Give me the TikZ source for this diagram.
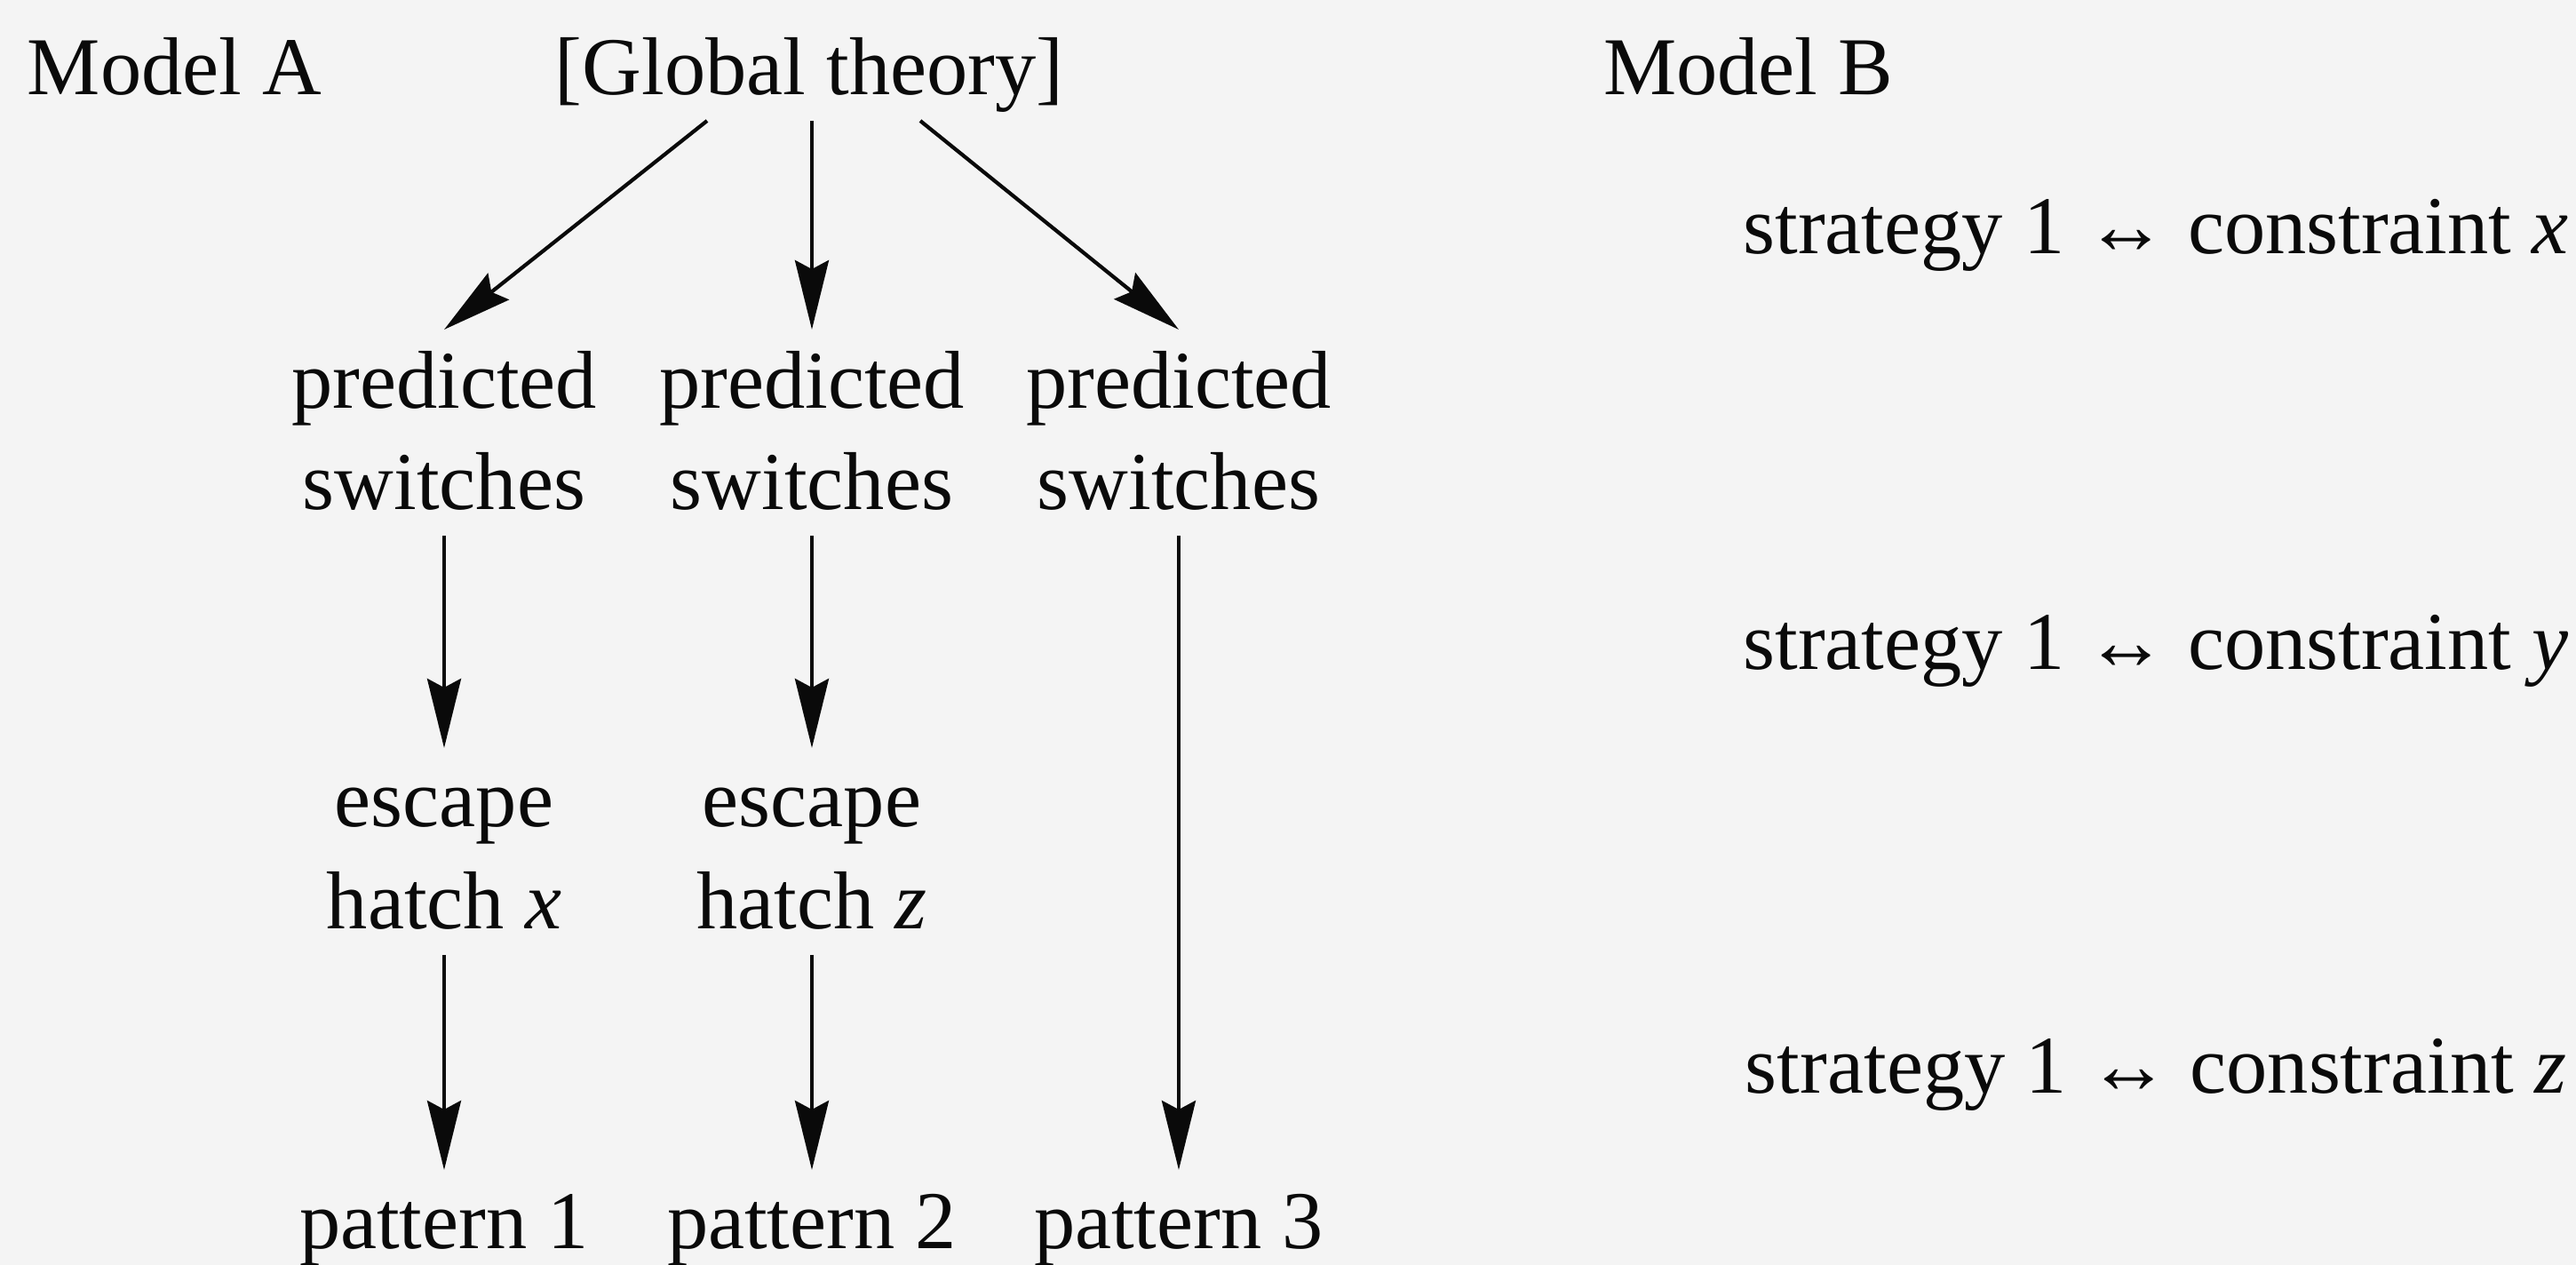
\documentclass[tikz,border=0pt]{standalone}
\usepackage{fontspec}
\setmainfont{Liberation Serif}
\usetikzlibrary{arrows.meta}
\definecolor{paper}{RGB}{244,244,244}
\definecolor{ink}{RGB}{10,10,10}
\tikzset{
  txt/.style={inner sep=0pt, outer sep=0pt, anchor=base, text height=0.89cm, text depth=0.29cm,
    font=\fontsize{26.3}{32}\selectfont, text=ink},
  arr/.style={draw=ink, line width=1.2pt, -{Stealth[length=0.78cm,width=0.38cm,inset=0.1cm]}}
}
\begin{document}
\begin{tikzpicture}
\useasboundingbox (0,0) rectangle (29,-14.24);
\fill[paper] (0,0) rectangle (29,-14.24);
% headings
\node[txt, anchor=base west] (ma) at (0.31,-1.07) {Model A};
\node[txt] (gt) at (9.11,-1.07) {[Global theory]};
\node[txt, anchor=base west] (mb) at (18.05,-1.07) {Model B};
% column 1
\node[txt] (ps1a) at (5.00,-4.60) {predicted};
\node[txt] (ps1b) at (5.00,-5.74) {switches};
\node[txt] (eh1a) at (5.00,-9.31) {escape};
\node[txt] (eh1b) at (5.00,-10.46) {hatch \textit{x}};
\node[txt] (pat1) at (5.00,-14.06) {pattern 1};
% column 2
\node[txt] (ps2a) at (9.14,-4.60) {predicted};
\node[txt] (ps2b) at (9.14,-5.74) {switches};
\node[txt] (eh2a) at (9.14,-9.31) {escape};
\node[txt] (eh2b) at (9.14,-10.46) {hatch \textit{z}};
\node[txt] (pat2) at (9.14,-14.06) {pattern 2};
% column 3
\node[txt] (ps3a) at (13.27,-4.60) {predicted};
\node[txt] (ps3b) at (13.27,-5.74) {switches};
\node[txt] (pat3) at (13.27,-14.06) {pattern 3};
% model B
\node[txt] (sc1) at (24.27,-2.86) {strategy 1 ↔ constraint \textit{x}};
\node[txt] (sc2) at (24.27,-7.54) {strategy 1 ↔ constraint \textit{y}};
\node[txt] (sc3) at (24.27,-12.31) {strategy 1 ↔ constraint \textit{z}};
% arrows
\draw[arr] ([xshift=-1.15cm]gt.south) -- (ps1a.north);
\draw[arr] (gt.south -| ps2a.north) -- (ps2a.north);
\draw[arr] ([xshift=1.25cm]gt.south) -- (ps3a.north);
\draw[arr] (ps1b.south) -- (eh1a.north);
\draw[arr] (ps2b.south) -- (eh2a.north);
\draw[arr] (eh1b.south) -- (pat1.north);
\draw[arr] (eh2b.south) -- (pat2.north);
\draw[arr] (ps3b.south) -- (pat3.north);
\end{tikzpicture}
\end{document}
